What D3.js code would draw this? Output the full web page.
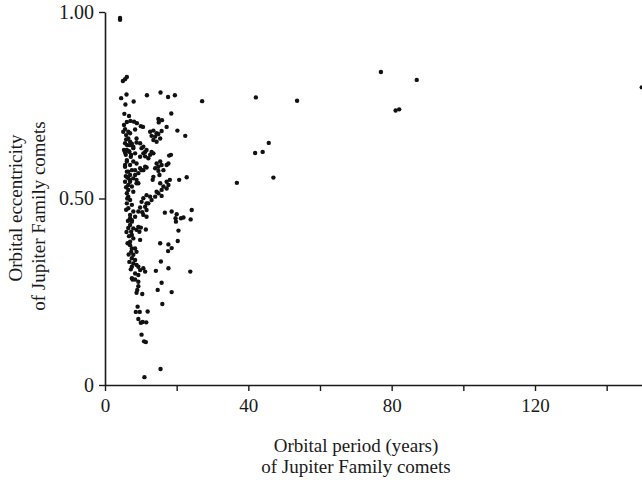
<!DOCTYPE html>
<html>
<head>
<meta charset="utf-8">
<script src="https://cdn.jsdelivr.net/npm/d3@7"></script>
<style>
  html, body { margin: 0; padding: 0; background: #fff; }
  svg { display: block; }
  text { font-family: "Liberation Serif", "Times New Roman", serif; fill: #1a1a1a; }
</style>
</head>
<body>
<svg id="chart" width="642" height="480"></svg>
<script>
// Orbital period (years)
const periodYears = [
  4.2,4.2,5.0,5.6,6.1,4.5,6.0,5.7,8.0,11.7,15.5,17.6,19.5,27.1,
  5.4,6.7,14.9,15.9,15.0,18.5,5.3,6.1,7.1,8.1,8.9,10.0,10.6,17.2,
  5.6,5.1,6.5,8.4,5.9,7.0,12.6,13.5,14.4,14.0,14.9,15.8,13.0,20.2,22.4,6.5,8.8,
  5.9,7.0,7.5,6.2,7.9,8.8,5.3,6.8,5.8,7.2,8.4,9.8,10.2,10.7,11.2,11.6,10.7,13.5,9.8,
  15.4,14.4,13.5,17.9,18.4,12.1,13.0,5.6,7.0,7.9,6.1,
  6.1,7.0,7.9,8.8,9.8,10.7,5.6,6.5,7.5,8.4,9.3,11.6,14.0,14.9,15.4,15.8,16.3,17.7,11.2,10.2,14.4,17.2,
  6.1,7.0,7.9,5.6,6.5,8.8,13.5,15.2,13.3,18.1,20.7,22.8,6.1,
  6.5,7.5,8.8,15.4,17.2,17.7,16.3,17.2,14.4,14.0,13.0,14.9,15.8,15.8,12.6,11.6,10.7,10.2,11.6,11.2,9.8,
  6.5,7.9,6.1,6.5,7.0,6.1,7.5,6.5,8.4,7.0,7.9,7.5,12.1,11.6,9.3,10.7,10.4,
  16.7,18.6,20.0,19.7,21.2,24.2,23.9,21.9,19.8,20.5,20.3,15.4,17.7,18.6,17.6,
  7.0,7.5,7.0,7.9,7.3,7.5,7.9,7.0,11.6,9.3,10.0,11.4,8.8,9.6,9.8,6.5,6.7,
  7.0,7.5,7.3,8.4,8.8,7.9,7.5,8.4,7.9,8.8,7.5,9.3,9.8,10.7,11.2,8.4,9.3,7.5,9.3,
  15.6,17.7,14.2,23.8,15.8,7.7,8.4,
  9.3,9.0,8.8,10.4,14.7,18.6,16.0,9.1,8.6,9.7,11.9,9.3,10.0,10.5,11.5,10.2,10.9,11.4,15.5,11.0,
  5.6,6.7,7.3,6.1,5.6,7.0,7.0,9.3,8.4,11.2,12.6,14.9,
  5.9,6.2,5.9,6.4,6.0,6.3,6.6,5.8,6.8,7.2,
  42.1,53.6,36.8,45.7,41.9,44.0,47.0,77.0,87.0,81.1,82.1,149.8
];
// Orbital eccentricity
const eccentricity = [
  0.984,0.979,0.815,0.820,0.826,0.769,0.779,0.752,0.760,0.777,0.784,0.772,0.777,0.761,
  0.727,0.721,0.713,0.710,0.704,0.728,0.697,0.705,0.708,0.706,0.702,0.694,0.692,0.692,
  0.686,0.679,0.679,0.685,0.670,0.675,0.679,0.682,0.675,0.666,0.673,0.681,0.668,0.682,0.668,0.661,0.661,
  0.658,0.652,0.647,0.643,0.639,0.650,0.630,0.625,0.617,0.612,0.621,0.648,0.635,0.621,0.625,0.630,0.639,0.621,0.612,
  0.661,0.652,0.657,0.615,0.617,0.608,0.625,0.648,0.643,0.635,0.630,
  0.603,0.590,0.599,0.594,0.581,0.576,0.585,0.572,0.576,0.563,0.568,0.583,0.581,0.585,0.599,0.590,0.576,0.594,0.585,0.576,0.594,0.590,
  0.558,0.550,0.554,0.545,0.554,0.550,0.558,0.563,0.550,0.550,0.550,0.557,0.572,
  0.536,0.532,0.541,0.541,0.545,0.536,0.532,0.527,0.518,0.505,0.496,0.514,0.523,0.507,0.505,0.509,0.501,0.491,0.487,0.478,0.476,
  0.523,0.518,0.514,0.505,0.496,0.487,0.483,0.474,0.451,0.456,0.465,0.442,0.487,0.469,0.465,0.456,0.463,
  0.462,0.465,0.458,0.447,0.447,0.469,0.444,0.449,0.438,0.414,0.386,0.380,0.377,0.367,0.359,
  0.447,0.438,0.429,0.420,0.411,0.402,0.393,0.384,0.451,0.424,0.422,0.417,0.416,0.411,0.389,0.421,0.399,
  0.375,0.366,0.357,0.366,0.357,0.349,0.340,0.335,0.326,0.322,0.317,0.317,0.308,0.313,0.304,0.299,0.295,0.286,0.277,
  0.331,0.313,0.306,0.304,0.274,0.283,0.283,
  0.265,0.255,0.247,0.244,0.255,0.249,0.217,0.210,0.196,0.196,0.197,0.177,0.167,0.169,0.168,0.135,0.117,0.115,0.043,0.021,
  0.623,0.627,0.617,0.599,0.590,0.563,0.545,0.541,0.576,0.613,0.617,0.574,
  0.530,0.500,0.470,0.440,0.410,0.380,0.350,0.560,0.330,0.310,
  0.771,0.762,0.542,0.649,0.622,0.625,0.556,0.839,0.818,0.736,0.739,0.798
];
const xTicks = [0, 20, 40, 60, 80, 100, 120, 140];
const xTickLabels = ["0", "", "40", "", "80", "", "120", ""];
const yTicks = [0, 0.5, 1];
const yTickLabels = ["0", "0.50", "1.00"];
const xTitle = ["Orbital period (years)", "of Jupiter Family comets"];
const yTitle = ["Orbital eccentricity", "of Jupiter Family comets"];

const svg = d3.select("#chart");
const x = d3.scaleLinear().domain([0, 150]).range([105, 642.5]);
const y = d3.scaleLinear().domain([0, 1]).range([385, 12]);

const ink = "#1a1a1a";

// x axis
const gx = svg.append("g").attr("transform", `translate(0,${y(0)})`)
  .call(d3.axisBottom(x).tickValues(xTicks).tickSize(6).tickSizeOuter(0)
    .tickFormat((d, i) => xTickLabels[i]));
gx.select(".domain").attr("stroke", ink).attr("stroke-width", 1.6);
gx.selectAll(".tick line").attr("stroke", ink).attr("stroke-width", 1.4);
gx.selectAll(".tick text").attr("font-size", 19).attr("fill", ink).attr("y", 14)
  .attr("font-family", "Liberation Serif, serif");

// y axis
const gy = svg.append("g").attr("transform", `translate(${x(0)},0)`)
  .call(d3.axisLeft(y).tickValues(yTicks).tickSize(6).tickSizeOuter(0)
    .tickFormat((d, i) => yTickLabels[i]));
gy.select(".domain").attr("stroke", ink).attr("stroke-width", 1.6);
gy.selectAll(".tick line").attr("stroke", ink).attr("stroke-width", 1.4);
gy.selectAll(".tick text").attr("font-size", 20).attr("fill", ink).attr("x", -11)
  .attr("font-family", "Liberation Serif, serif");

// points
const pts = periodYears.map((p, i) => ({ p, e: eccentricity[i] }));
svg.append("g").selectAll("circle").data(pts).join("circle")
  .attr("cx", d => x(d.p)).attr("cy", d => y(d.e)).attr("r", 2.2)
  .attr("fill", "#111");

// x title
svg.append("g").selectAll("text").data(xTitle).join("text")
  .attr("x", 356).attr("y", (d, i) => 452 + i * 21)
  .attr("text-anchor", "middle").attr("font-size", 19).text(d => d);

// y title
svg.append("g").selectAll("text").data(yTitle).join("text")
  .attr("transform", (d, i) => `translate(${22 + i * 23},${208 + i * 8}) rotate(-90)`)
  .attr("text-anchor", "middle").attr("font-size", 19).text(d => d);
</script>
</body>
</html>
